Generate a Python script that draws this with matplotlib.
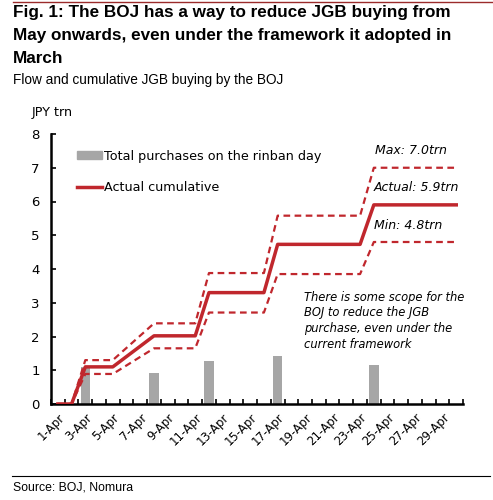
import numpy as np
import matplotlib
matplotlib.use("Agg")
import matplotlib.pyplot as plt
from matplotlib.lines import Line2D
from matplotlib.patches import Patch

# days of April (category axis 1..30)
days = np.arange(1, 31)
day_labels = [f"{d}-Apr" for d in days]

# rinban purchase days and amounts (JPY trn)
bar_days = [3, 8, 12, 17, 24]
bar_vals = [1.10, 0.92, 1.28, 1.43, 1.17]

# cumulative lines, given at break points only
line_days = [1, 2, 3, 5, 8, 11, 12, 16, 17, 23, 24, 30]
actual_cum = [0, 0, 1.10, 1.10, 2.02, 2.02, 3.30, 3.30, 4.73, 4.73, 5.90, 5.90]
max_cum = [0, 0, 1.30, 1.30, 2.39, 2.39, 3.88, 3.88, 5.58, 5.58, 7.00, 7.00]
min_cum = [0, 0, 0.89, 0.89, 1.65, 1.65, 2.71, 2.71, 3.85, 3.85, 4.80, 4.80]

RED = "#C0272D"
GREY = "#A6A6A6"

fig = plt.figure(figsize=(4.93, 5.0), dpi=100)
ax = fig.add_axes([0.1034, 0.192, 0.836, 0.54])

ax.bar(bar_days, bar_vals, width=0.7, color=GREY, zorder=2)
ax.plot(line_days, max_cum, color=RED, lw=1.6, ls=(0, (3.0, 2.0)), zorder=3)
ax.plot(line_days, min_cum, color=RED, lw=1.6, ls=(0, (3.0, 2.0)), zorder=3)
ax.plot(line_days, actual_cum, color=RED, lw=2.5, zorder=4)

ax.set_xlim(0.5, 30.5)
ax.set_ylim(0, 8)
ax.set_yticks(range(0, 9))
ax.set_xticks(np.arange(0.5, 31, 1))
ax.set_xticklabels([])
ax.set_xticks(days[::2], minor=True)
ax.set_xticklabels(day_labels[::2], minor=True, rotation=45, ha="right",
                   rotation_mode="anchor", fontsize=8.5, family="DejaVu Sans")
ax.tick_params(axis="x", which="major", direction="in", length=3.5, width=1.2)
ax.tick_params(axis="x", which="minor", length=0, pad=5)
ax.tick_params(axis="y", direction="in", length=3.5, width=1.2, labelsize=9.5, pad=8)

for s in ["top", "right"]:
    ax.spines[s].set_visible(False)
for s in ["left", "bottom"]:
    ax.spines[s].set_linewidth(1.8)

handles = [Patch(color=GREY), Line2D([], [], color=RED, lw=2.5)]
ax.legend(handles, ["Total purchases on the rinban day", "Actual cumulative"],
          loc="upper left", bbox_to_anchor=(0.035, 0.985), frameon=False,
          fontsize=9.2, handlelength=2.0, handletextpad=0.15, labelspacing=1.45,
          handleheight=0.6)

ax.text(-0.047, 1.08, "JPY trn", transform=ax.transAxes, fontsize=9.2, va="center")

ax.text(0.787, 0.925, "Max: 7.0trn", transform=ax.transAxes, fontsize=9.0, style="italic")
ax.text(0.783, 0.79, "Actual: 5.9trn", transform=ax.transAxes, fontsize=9.0, style="italic")
ax.text(0.783, 0.648, "Min: 4.8trn", transform=ax.transAxes, fontsize=9.0, style="italic")
ax.text(0.613, 0.42,
        "There is some scope for the\nBOJ to reduce the JGB\npurchase, even under the\ncurrent framework",
        transform=ax.transAxes, fontsize=8.3, style="italic", va="top", linespacing=1.28)

# header / footer
fig.add_artist(Line2D([0.027, 1.0], [0.997, 0.997], color="#9B2B2B", lw=1.0))
fig.text(0.027, 0.99,
         "Fig. 1: The BOJ has a way to reduce JGB buying from\nMay onwards, even under the framework it adopted in\nMarch",
         fontsize=12.3, fontweight="bold", family="Liberation Sans", va="top", linespacing=1.68)
fig.text(0.027, 0.84, "Flow and cumulative JGB buying by the BOJ",
         fontsize=9.8, family="Liberation Sans", va="center")
fig.add_artist(Line2D([0.025, 0.994], [0.049, 0.049], color="black", lw=0.8))
fig.text(0.027, 0.026, "Source: BOJ, Nomura", fontsize=8.8, family="Liberation Sans", va="center")

fig.savefig("out.png", dpi=100)
